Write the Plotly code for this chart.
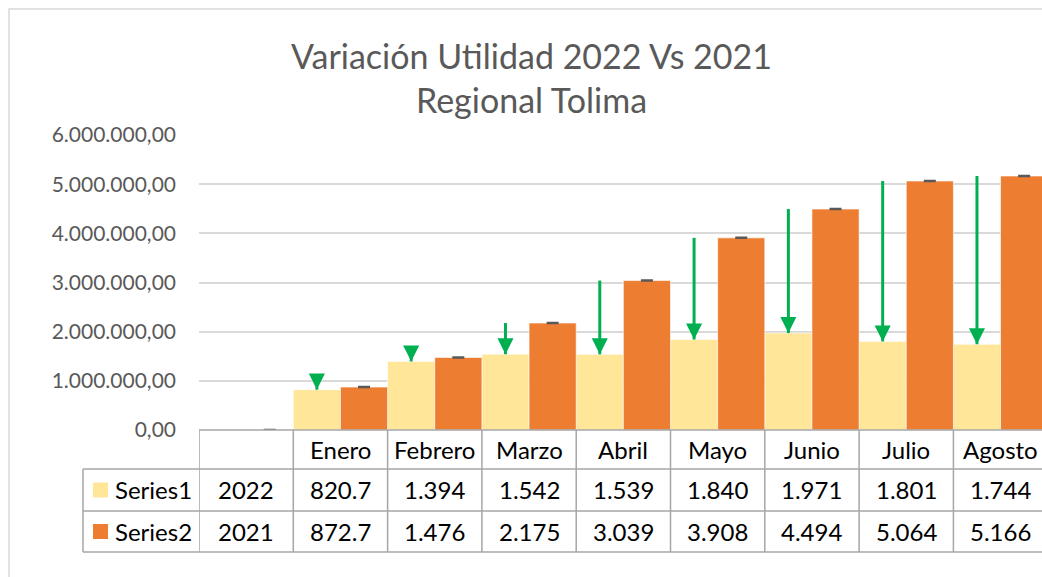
import plotly.graph_objects as go

# --- data -------------------------------------------------------------
categories = ["", "Enero", "Febrero", "Marzo", "Abril", "Mayo", "Junio", "Julio", "Agosto"]
series1_2022 = [2022, 820700, 1394000, 1542000, 1539000, 1840000, 1971000, 1801000, 1744000]
series2_2021 = [2021, 872700, 1476000, 2175000, 3039000, 3908000, 4494000, 5064000, 5166000]
series_names = ["Series1", "Series2"]
y_ticks = [0, 1000000, 2000000, 3000000, 4000000, 5000000, 6000000]

# --- styling ----------------------------------------------------------
W, H = 1042, 577
L, R, T, B = 199, 0, 135, 147
COL1, COL2 = "#FFE699", "#ED7D31"
ARROW = "#00B050"
GRID = "#D9D9D9"
TABLE_LINE = "#A6A6A6"
FONT = "Lato"
TABLE_SIZE = 24
CAT_W = 94.3  # pixel width of one category slot

plot_w = W - L - R
plot_h = H - T - B


def xp(px):
    return (px - L) / plot_w


def yp(py):
    return (H - B - py) / plot_h


def fmt(v):
    if v < 10000:
        return str(int(v))
    if v < 1000000:
        return f"{v / 1000:.1f}"
    return f"{v / 1000000:.3f}"


idx = list(range(len(categories)))
x1 = [i - 0.25 for i in idx]
x2 = [i + 0.25 for i in idx]

fig = go.Figure()
fig.add_trace(go.Bar(
    x=x1, y=series1_2022, name=series_names[0], width=0.5,
    marker=dict(color=COL1, line=dict(color="rgba(255,255,255,0.6)", width=1)),
))
fig.add_trace(go.Bar(
    x=x2, y=series2_2021, name=series_names[1], width=0.5,
    marker=dict(color=COL2, line=dict(color="rgba(255,255,255,0.6)", width=1)),
    error_y=dict(type="data", array=[0] * len(idx), visible=True,
                 color="#595959", thickness=2.5, width=6),
))

shapes = []
annotations = []

# outer chart border
shapes.append(dict(type="rect", xref="paper", yref="paper",
                   x0=xp(9), x1=xp(1100), y0=yp(9), y1=yp(640),
                   line=dict(color=GRID, width=1.5), fillcolor="rgba(0,0,0,0)", layer="below"))

# title
annotations.append(dict(xref="paper", yref="paper", x=xp(531), y=yp(77),
                        text="Variación Utilidad 2022 Vs 2021<br>Regional Tolima",
                        showarrow=False, xanchor="center", yanchor="middle",
                        font=dict(family=FONT, size=34, color="#595959")))

# green arrows from the 2021 value down to the 2022 value:
# shaft as a line shape, head as a short fixed-size annotation arrow
for i in idx[1:]:
    shapes.append(dict(type="line", xref="x", yref="y",
                       x0=x1[i], x1=x1[i], y0=series2_2021[i], y1=series1_2022[i],
                       line=dict(color=ARROW, width=3)))
    annotations.append(dict(x=x1[i], y=series1_2022[i], xref="x", yref="y",
                            ax=0, ay=-16, text="", showarrow=True, arrowhead=2,
                            arrowsize=1.07, arrowwidth=3, arrowcolor=ARROW, standoff=0))

# data table below the axis
row_top = [430, 469, 511]
row_bot = 552
x_right = 1100
for k, y in enumerate(row_top + [row_bot]):
    x_start = 199 if k == 0 else 83
    shapes.append(dict(type="line", xref="paper", yref="paper",
                       x0=xp(x_start), x1=xp(x_right), y0=yp(y), y1=yp(y),
                       line=dict(color=TABLE_LINE, width=1.5)))
shapes.append(dict(type="line", xref="paper", yref="paper",
                   x0=xp(83), x1=xp(83), y0=yp(469), y1=yp(row_bot),
                   line=dict(color=TABLE_LINE, width=1.5)))
for i in idx:
    shapes.append(dict(type="line", xref="x", yref="paper",
                       x0=i - 0.5, x1=i - 0.5, y0=yp(430), y1=yp(row_bot),
                       line=dict(color=TABLE_LINE, width=1.5)))

row_mid = [(row_top[0] + row_top[1]) / 2, (row_top[1] + row_top[2]) / 2, (row_top[2] + row_bot) / 2]
cell_font = dict(family=FONT, size=TABLE_SIZE, color="#000000")
for i, c in enumerate(categories):
    annotations.append(dict(x=i, y=yp(row_mid[0]), xref="x", yref="paper", text=c,
                            showarrow=False, xanchor="center", yanchor="middle", font=cell_font))
    for r, vals in enumerate([series1_2022, series2_2021]):
        annotations.append(dict(x=i, y=yp(row_mid[r + 1]), xref="x", yref="paper", text=fmt(vals[i]),
                                showarrow=False, xanchor="center", yanchor="middle", font=cell_font))

for r, (nm, col) in enumerate(zip(series_names, [COL1, COL2])):
    cy = row_mid[r + 1]
    shapes.append(dict(type="rect", xref="paper", yref="paper",
                       x0=xp(93), x1=xp(108), y0=yp(cy - 7.5), y1=yp(cy + 7.5),
                       fillcolor=col, line=dict(width=0)))
    annotations.append(dict(xref="paper", yref="paper", x=xp(113), y=yp(cy), text=nm,
                            showarrow=False, xanchor="left", yanchor="middle", font=cell_font))

fig.update_layout(
    width=W, height=H,
    margin=dict(l=L, r=R, t=T, b=B),
    paper_bgcolor="white", plot_bgcolor="white",
    showlegend=False,
    barmode="overlay",
    separators=",.",
    shapes=shapes,
    annotations=annotations,
    xaxis=dict(range=[-0.5, -0.5 + plot_w / CAT_W], showticklabels=False,
               showgrid=False, zeroline=False, showline=False, fixedrange=True),
    yaxis=dict(range=[0, 6000000], tickvals=y_ticks, tickformat=",.2f",
               showgrid=True, gridcolor=GRID, gridwidth=1.5, zeroline=False,
               showline=False, ticklabelstandoff=22,
               tickfont=dict(family=FONT, size=21, color="#595959")),
)

fig.write_html("out.html")
